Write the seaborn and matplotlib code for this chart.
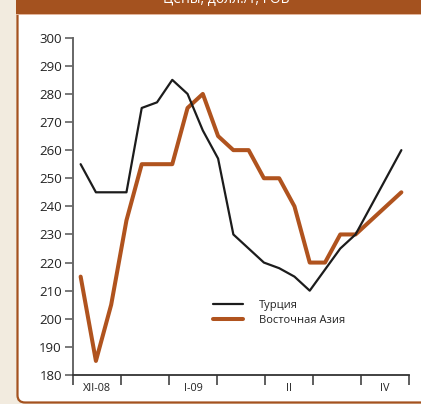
import numpy as np
import pandas as pd
import matplotlib
matplotlib.use("Agg")
import matplotlib.pyplot as plt
from matplotlib.patches import FancyBboxPatch, Rectangle
import seaborn as sns

# Weekly prices (week index within the Dec-08 .. Apr-09 window)
turkey_weeks = [0, 1, 2, 3, 4, 5, 6, 7, 8, 9, 10, 12, 13, 14, 15, 17, 18, 21]
turkey_vals = [255, 245, 245, 245, 275, 277, 285, 280, 267, 257, 230, 220, 218, 215, 210, 225, 230, 260]

asia_weeks = [0, 1, 2, 3, 4, 5, 6, 7, 8, 9, 10, 11, 12, 13, 14, 15, 16, 17, 18, 21]
asia_vals = [215, 185, 205, 235, 255, 255, 255, 275, 280, 265, 260, 260, 250, 250, 240, 220, 220, 230, 230, 245]

series_names = ["Турция", "Восточная Азия"]
period_labels = ["XII-08", "", "I-09", "", "II", "", "IV"]
y_ticks = list(range(180, 301, 10))
title_text = "Цены, долл./т, FOB"

BROWN = "#A4521F"
LINE_BROWN = "#B0531E"
BEIGE = "#F2EBDF"

sns.set_theme(style="white")
plt.rcParams["font.family"] = ["Open Sans", "DejaVu Sans"]

W, H = 421, 404
fig = plt.figure(figsize=(W / 100, H / 100), dpi=100)
fig.patch.set_facecolor(BEIGE)

# White panel with brown rounded border, running off the right edge
panel = FancyBboxPatch((17.5 / W, 1.5 / H), 440 / W, 420 / H,
                       boxstyle="round,pad=0,rounding_size=0.018",
                       transform=fig.transFigure, facecolor="white",
                       edgecolor=BROWN, linewidth=1.6, zorder=-2)
fig.patches.append(panel)
# Header band
fig.patches.append(Rectangle((16 / W, 1 - 14 / H), 1, 14 / H,
                             transform=fig.transFigure, facecolor=BROWN,
                             edgecolor="none", zorder=-1))
fig.patches.append(Rectangle((16 / W, 1 - 15.2 / H), 1, 1.2 / H,
                             transform=fig.transFigure, facecolor="#E2B49A",
                             edgecolor="none", zorder=-1))
fig.text(226 / W, 1 - 2.8 / H, title_text, color="white", fontsize=10,
         ha="center", va="baseline", zorder=2)

ax = fig.add_axes([73 / W, 1 - 375 / H, 336 / W, 337.3 / H])
ax.set_facecolor("none")

df_t = pd.DataFrame({"week": turkey_weeks, "price": turkey_vals})
df_a = pd.DataFrame({"week": asia_weeks, "price": asia_vals})
sns.lineplot(data=df_t, x="week", y="price", ax=ax, color="#1c1c1c",
             linewidth=1.6, label=series_names[0], zorder=3)
sns.lineplot(data=df_a, x="week", y="price", ax=ax, color=LINE_BROWN,
             linewidth=2.9, label=series_names[1], zorder=2)

n_weeks = 22
n_periods = len(period_labels)
step = n_weeks / n_periods
ax.set_xlim(-0.5, n_weeks - 0.5)
ax.set_ylim(180, 300)

ax.set_xticks([-0.5 + step * k for k in range(n_periods + 1)])
ax.set_xticklabels([])
ax.set_xticks([-0.5 + step * (k + 0.5) for k in range(n_periods)], minor=True)
ax.set_xticklabels(period_labels, minor=True, fontsize=7.8, color="#222")
ax.tick_params(axis="x", which="major", direction="out", length=7,
               width=1.1, color="#333", bottom=True)
ax.tick_params(axis="x", which="minor", length=0, pad=6)

ax.set_yticks(y_ticks)
ax.set_yticklabels([str(v) for v in y_ticks], fontsize=9.5, color="#222")
ax.tick_params(axis="y", direction="out", length=6, width=1.1,
               color="#555", left=True, pad=2)

for side in ["top", "right"]:
    ax.spines[side].set_visible(False)
ax.spines["left"].set_color("#666")
ax.spines["left"].set_linewidth(1.4)
ax.spines["bottom"].set_color("#333")
ax.spines["bottom"].set_linewidth(1.3)

ax.set_xlabel("")
ax.set_ylabel("")

leg = ax.legend(loc="upper left", bbox_to_anchor=(0.402, 0.236), frameon=False,
                fontsize=8, handlelength=2.7, handletextpad=1.5,
                labelspacing=0.35, borderaxespad=0)
for t in leg.get_texts():
    t.set_color("#222")

fig.savefig("out.png", dpi=100, facecolor=fig.get_facecolor())
